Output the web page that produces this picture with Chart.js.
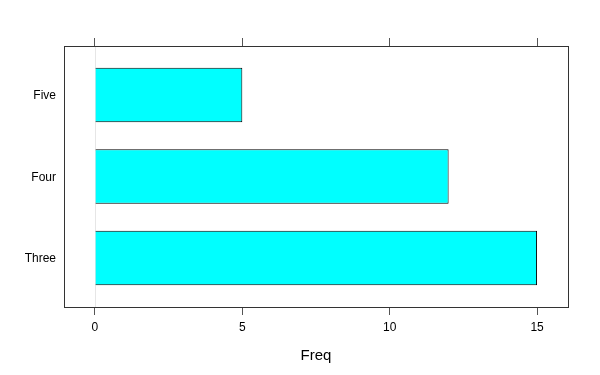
<!DOCTYPE html>
<html>
<head>
<meta charset="utf-8">
<script src="https://cdn.jsdelivr.net/npm/chart.js@4"></script>
<style>
  html, body { margin: 0; padding: 0; background: #fff; }
  #wrap { width: 600px; height: 375px; }
</style>
</head>
<body>
<div id="wrap"><canvas id="myChart" width="600" height="375"></canvas></div>
<script>
// Dữ liệu
const categories = ['Five', 'Four', 'Three'];
const freq = [5, 12, 15];
const tickValues = [0, 5, 10, 15];

const ctx = document.getElementById('myChart').getContext('2d');

// Khung và đường tham chiếu tại 0
const boxPlugin = {
    id: 'boxPlugin',
    beforeDatasetsDraw(chart) {
        const { ctx, chartArea: a, scales } = chart;
        const x0 = scales.x.getPixelForValue(0);
        ctx.save();
        ctx.strokeStyle = '#e6e6e6';
        ctx.lineWidth = 1;
        ctx.beginPath();
        ctx.moveTo(Math.round(x0) + 0.5, a.top);
        ctx.lineTo(Math.round(x0) + 0.5, a.bottom);
        ctx.stroke();
        ctx.restore();
    },
    afterDraw(chart) {
        const { ctx, chartArea: a } = chart;
        ctx.save();
        ctx.strokeStyle = '#333333';
        ctx.lineWidth = 1;
        ctx.strokeRect(Math.round(a.left) + 0.5, Math.round(a.top) + 0.5,
            Math.round(a.right - a.left), Math.round(a.bottom - a.top));
        ctx.restore();
    }
};

const setTicks = (axis) => {
    axis.ticks = tickValues.map(v => ({ value: v }));
};

const chart = new Chart(ctx, {
    type: 'bar',
    data: {
        datasets: [{
            data: freq.map((v, i) => ({ x: v, y: i + 1 })),
            backgroundColor: '#00ffff',
            borderColor: '#000000',
            borderWidth: 1,
            barPercentage: 0.667,
            categoryPercentage: 1
        }]
    },
    options: {
        indexAxis: 'y',
        responsive: false,
        animation: false,
        layout: { padding: { left: 0, right: 32, top: 0, bottom: 0 } },
        plugins: {
            legend: { display: false },
            tooltip: { enabled: false }
        },
        scales: {
            x: {
                type: 'linear',
                position: 'bottom',
                min: -1.05,
                max: 16.05,
                afterBuildTicks: setTicks,
                afterFit: (s) => { s.height = 68; },
                border: { display: false },
                grid: { drawOnChartArea: false, tickLength: 8, color: '#555555' },
                ticks: {
                    color: '#000000',
                    padding: 5,
                    font: { family: 'Liberation Sans', size: 12 }
                },
                title: {
                    display: true,
                    text: 'Freq',
                    color: '#000000',
                    padding: { top: 4, bottom: 10 },
                    font: { family: 'Liberation Sans', size: 15 }
                }
            },
            x2: {
                position: 'top',
                type: 'linear',
                min: -1.05,
                max: 16.05,
                afterBuildTicks: setTicks,
                afterFit: (s) => { s.height = 46; },
                border: { display: false },
                grid: { drawOnChartArea: false, tickLength: 8, color: '#555555' },
                ticks: { color: 'rgba(0,0,0,0)', font: { size: 12 } }
            },
            y: {
                type: 'linear',
                reverse: true,
                offset: false,
                min: 0.4,
                max: 3.6,
                afterBuildTicks: (axis) => {
                    axis.ticks = categories.map((c, i) => ({ value: i + 1 }));
                },
                afterFit: (s) => { s.width = 64; },
                border: { display: false },
                grid: { display: false, drawTicks: false },
                ticks: {
                    color: '#000000',
                    padding: 8,
                    labelOffset: 1,
                    callback: (v) => categories[Math.round(v) - 1],
                    font: { family: 'Liberation Sans', size: 12 }
                }
            }
        }
    },
    plugins: [boxPlugin]
});
</script>
</body>
</html>
